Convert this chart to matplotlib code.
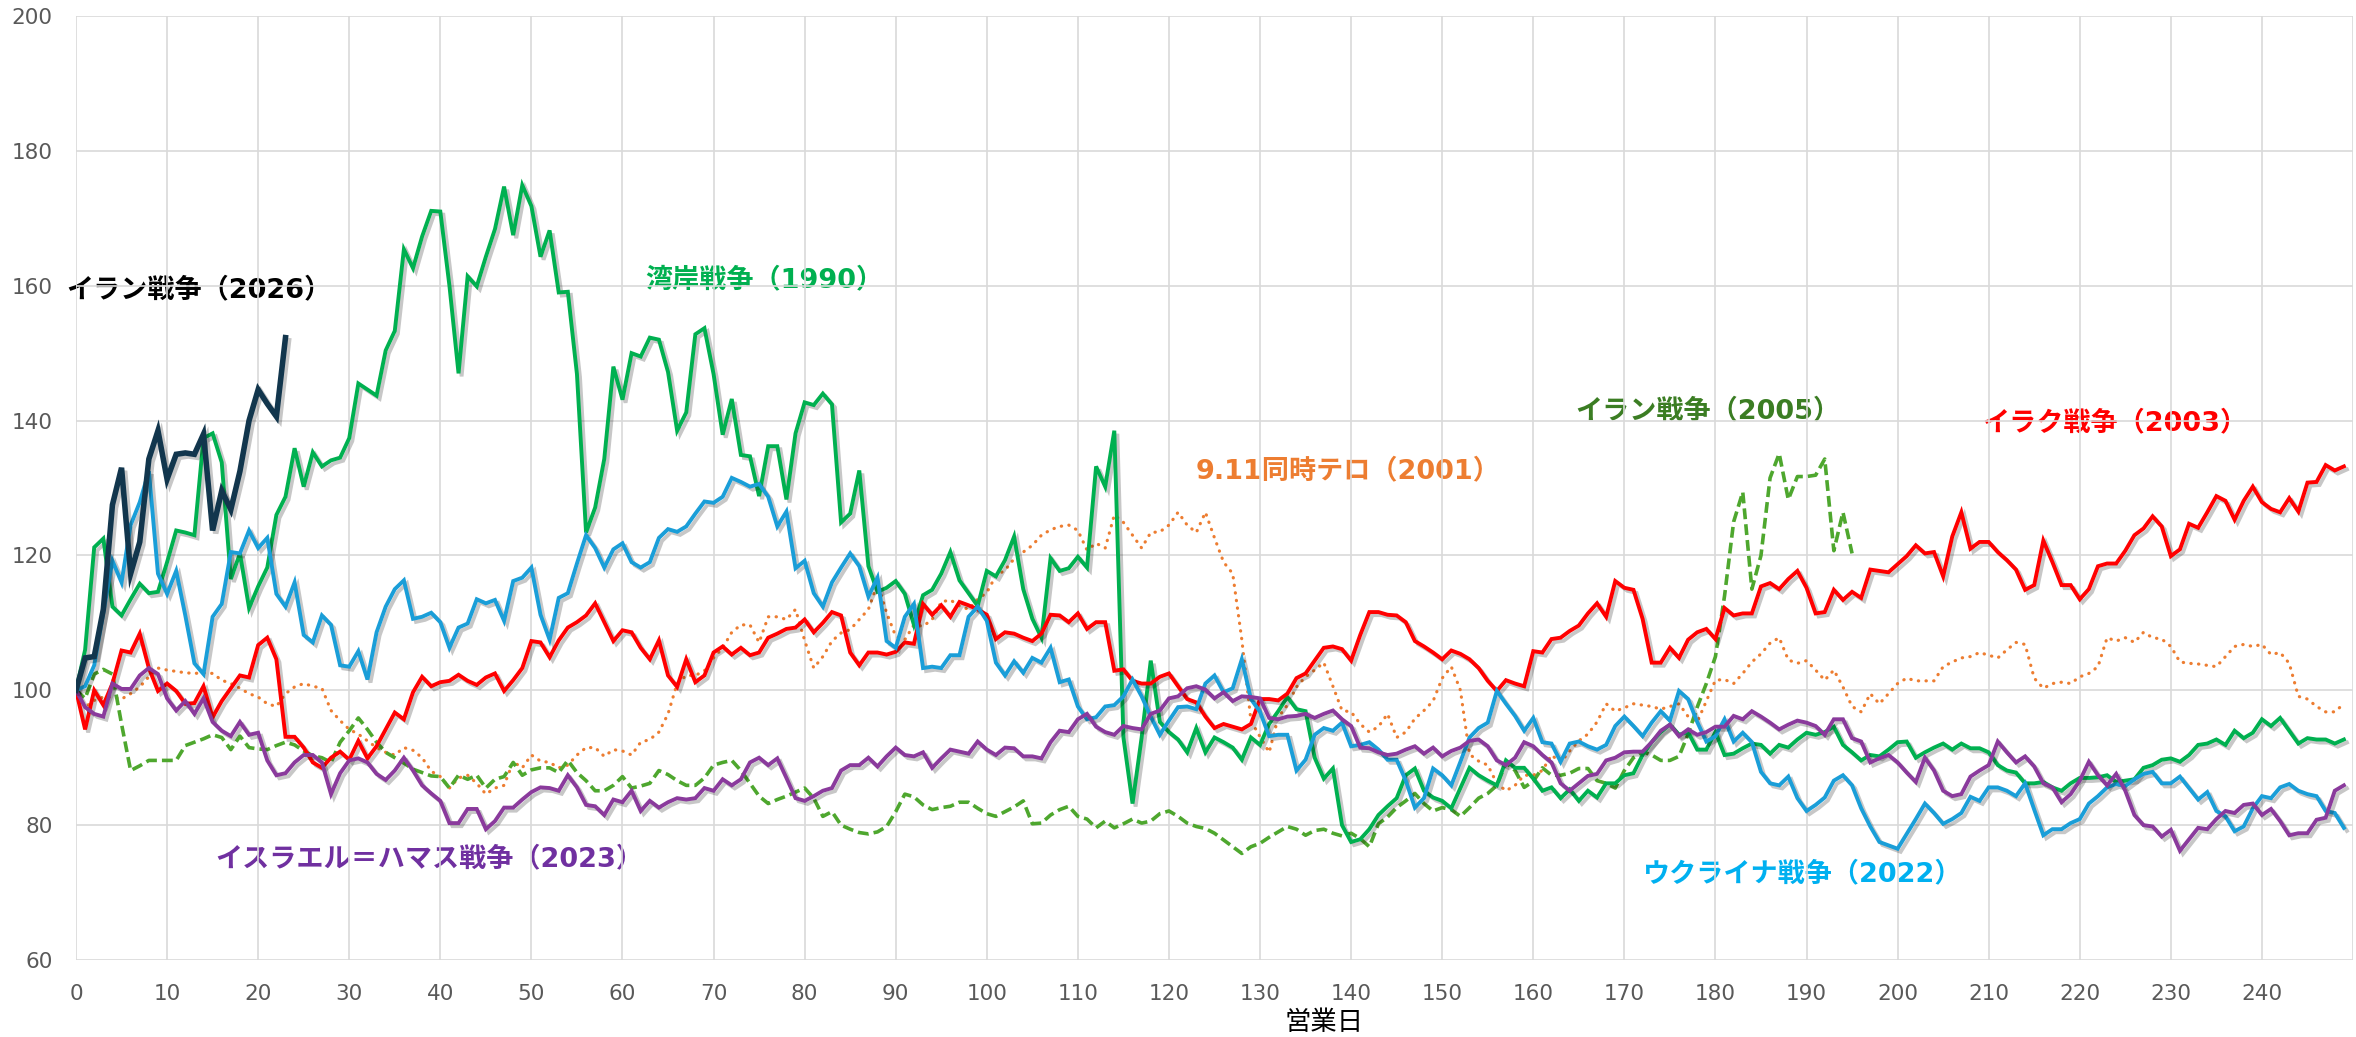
import matplotlib
matplotlib.use("Agg")
import matplotlib.pyplot as plt
import matplotlib.patheffects as pe
import numpy as np

plt.rcParams['font.family'] = ['DejaVu Sans', 'Noto Sans CJK JP']

# ---------------- data (index = business day) ----------------
iran2026 = [100, 104.8, 105, 112, 127.5, 133, 117.3, 122, 134.3, 138.5, 131.3, 135, 135.2, 135,
            138, 123.7, 129.6, 126.8, 132.5, 140, 144.6, 142.5, 140.6, 152.3]

gulf1990 = [100, 106, 121.2, 122.5, 112.4, 111.1, 113.5, 115.8, 114.4, 114.6,
            119, 123.7, 123.4, 123, 137.4, 138.1, 133.8, 116.5, 120.3, 112.2,
            115.4, 118.2, 126, 128.7, 135.9, 130.2, 135.3, 133.2, 134.1, 134.5,
            137.4, 145.5, 144.6, 143.7, 150.4, 153.3, 165.4, 162.6, 167.3, 171.1,
            171, 160, 147, 161.4, 159.9, 164.3, 168.4, 174.7, 167.5, 174.9,
            171.8, 164.3, 168.2, 159, 159.1, 146.9, 123.4, 127.1, 134.3, 148,
            143.1, 150, 149.5, 152.3, 152, 147.2, 138.5, 141.2, 152.8, 153.7,
            146.9, 137.9, 143.2, 134.9, 134.7, 128.8, 136.2, 136.2, 128.3, 138.1,
            142.7, 142.3, 144, 142.4, 124.9, 126.2, 132.6, 118.4, 114.6, 115.2,
            116.2, 114.3, 109.7, 114.1, 114.9, 117.3, 120.5, 116.3, 114.4, 112.5,
            117.7, 116.9, 119.3, 122.8, 115, 110.6, 107.8, 119.6, 117.7, 118.1,
            119.8, 118.2, 133.2, 130.2, 138.5, 93, 83.2, 93, 104.4, 95.3,
            93.8, 92.7, 90.8, 94.4, 90.8, 93, 92.3, 91.5, 89.7, 93,
            91.9, 95, 96.9, 99, 97.2, 96.9, 90, 86.9, 88.4, 80,
            77.5, 77.9, 79.4, 81.5, 82.8, 84, 87.4, 88.4, 85.1, 84.1,
            83.6, 82.5, 85.5, 88.5, 87.4, 86.6, 85.9, 89.6, 88.5, 88.5,
            86.9, 85.1, 85.6, 84, 85.3, 83.6, 85.1, 84.1, 86.2, 86.2,
            87.4, 87.7, 90.4, 92.3, 93.8, 94.9, 93.4, 93.8, 91.2, 91.2,
            93.8, 90.4, 90.6, 91.4, 92.1, 91.9, 90.6, 91.9, 91.5, 92.7,
            93.7, 93.4, 93.8, 94.6, 91.9, 90.8, 89.6, 90.4, 90.2, 91.2,
            92.3, 92.4, 90, 90.8, 91.5, 92.1, 91.2, 92.1, 91.4, 91.4,
            90.8, 88.9, 88.1, 87.8, 86.2, 86.2, 86.4, 85.6, 85.1, 86.2,
            87, 87, 87.1, 87.4, 86.4, 86.6, 86.8, 88.5, 88.9, 89.7,
            89.9, 89.4, 90.4, 91.9, 92.1, 92.7, 91.9, 94, 92.9, 93.7,
            95.7, 94.7, 95.9, 94, 92.1, 92.9, 92.7, 92.7, 92.1, 92.7]

ukraine2022 = [100, 100.6, 103.7, 111.5, 119.2, 116, 124.5, 127.9, 132.5, 117.3,
               114.3, 117.7, 111.1, 104, 102.4, 110.9, 112.8, 120.5, 120.3, 123.7,
               121.1, 122.6, 114.3, 112.4, 116, 108.2, 107.1, 111.1, 109.7, 103.7,
               103.5, 105.8, 101.6, 108.6, 112.4, 115, 116.3, 110.6, 110.9, 111.5,
               110.1, 106.3, 109.3, 109.9, 113.5, 112.9, 113.4, 110.3, 116.2, 116.7,
               118.2, 111.2, 107.5, 113.7, 114.4, 118.8, 123, 121.1, 118.2, 120.9,
               121.8, 119, 118.2, 119, 122.6, 123.9, 123.5, 124.3, 126.2, 128,
               127.8, 128.7, 131.5, 130.9, 130.2, 130.6, 128.7, 124.3, 126.5, 118.1,
               119.2, 114.4, 112.4, 116, 118.2, 120.3, 118.4, 113.9, 116.7, 107.3,
               106.3, 110.9, 112.8, 103.3, 103.5, 103.3, 105.2, 105.2, 110.9, 112.4,
               110.3, 104.1, 102.2, 104.3, 102.6, 104.8, 104.1, 106.3, 101.2, 101.6,
               97.6, 95.7, 96, 97.6, 97.8, 99.1, 101.6, 99.1, 96.1, 93.4,
               95.5, 97.5, 97.6, 97.2, 101, 102.2, 99.7, 100.3, 104.6, 98.7,
               96.8, 93.2, 93.4, 93.4, 88.1, 89.7, 93.4, 94.4, 94, 95.2,
               91.7, 91.9, 92.3, 91.2, 89.7, 89.7, 86.6, 82.6, 84, 88.4,
               87.4, 85.9, 89.4, 93, 94.4, 95.2, 99.9, 98, 96.2, 94,
               95.9, 92.3, 92.1, 89.4, 92.1, 92.4, 91.7, 91.2, 91.9, 94.7,
               96.1, 94.7, 93.2, 95.2, 96.9, 95.5, 99.9, 98.7, 95.3, 92.4,
               93.2, 95.7, 92.4, 93.7, 92.3, 87.9, 86.2, 85.9, 87.2, 84,
               82.1, 83, 84.1, 86.6, 87.4, 85.9, 82.5, 79.8, 77.5, 77,
               76.5, 78.7, 80.9, 83.2, 81.8, 80.2, 80.9, 81.8, 84.2, 83.6,
               85.6, 85.6, 85.1, 84.3, 86.2, 82.3, 78.5, 79.4, 79.4, 80.3,
               80.9, 83.2, 84.3, 85.6, 86.1, 85.8, 86.8, 87.6, 87.9, 86.2,
               86.2, 87.2, 85.5, 83.8, 84.9, 82.1, 81.3, 79.1, 79.8, 82.5,
               84.3, 84, 85.6, 86.1, 85.1, 84.6, 84.3, 82.1, 81.8, 79.6]

iraq2003 = [100, 94.2, 100, 97.8, 101, 105.9, 105.6, 108.4, 103.3, 99.9,
            101, 99.9, 98, 98.1, 100.6, 96, 98.4, 100.3, 102.2, 101.9,
            106.7, 107.8, 104.6, 93.1, 93.1, 91.5, 89.3, 88.5, 90, 90.9,
            89.7, 92.5, 89.9, 91.7, 94.2, 96.7, 95.7, 99.7, 102, 100.6,
            101.2, 101.4, 102.3, 101.4, 100.8, 101.9, 102.5, 99.9, 101.5, 103.3,
            107.3, 107.1, 104.9, 107.4, 109.3, 110.1, 111.1, 112.9, 110.1, 107.3,
            108.9, 108.6, 106.3, 104.6, 107.4, 102.2, 100.5, 104.6, 101.2, 102.2,
            105.6, 106.5, 105.3, 106.3, 105.2, 105.6, 107.8, 108.4, 109.1, 109.3,
            110.5, 108.6, 110, 111.6, 111.1, 105.6, 103.7, 105.6, 105.6, 105.3,
            105.7, 107.1, 106.9, 112.8, 111.2, 112.6, 110.9, 113.1, 112.6, 112,
            111.2, 107.6, 108.6, 108.4, 107.8, 107.3, 108.4, 111.2, 111.1, 110.1,
            111.4, 109.1, 110.1, 110.1, 102.9, 103.1, 101.4, 101, 101, 102,
            102.5, 100.6, 98.7, 98.2, 96.1, 94.4, 95, 94.6, 94.2, 95,
            98.7, 98.7, 98.5, 99.5, 101.8, 102.5, 104.4, 106.3, 106.5, 106.1,
            104.4, 108.2, 111.6, 111.6, 111.2, 111.1, 110.1, 107.3, 106.5, 105.6,
            104.6, 105.9, 105.4, 104.6, 103.3, 101.4, 99.9, 101.5, 101, 100.6,
            105.8, 105.6, 107.6, 107.8, 108.8, 109.6, 111.4, 112.9, 110.9, 116.2,
            115.2, 114.9, 110.6, 104.1, 104.1, 106.3, 104.8, 107.5, 108.6, 109.1,
            107.6, 112.2, 111.1, 111.4, 111.4, 115.4, 115.9, 115, 116.5, 117.7,
            115.2, 111.4, 111.6, 114.9, 113.4, 114.6, 113.7, 117.9, 117.7, 117.5,
            118.7, 119.9, 121.5, 120.3, 120.5, 116.9, 122.8, 126.4, 121, 122,
            122, 120.5, 119.3, 117.9, 114.9, 115.6, 122.2, 119, 115.6, 115.6,
            113.5, 115, 118.4, 118.8, 118.8, 120.7, 123, 124, 125.8, 124.3,
            119.9, 120.9, 124.7, 124.1, 126.4, 128.8, 128.1, 125.3, 128.1, 130.2,
            127.9, 126.9, 126.4, 128.5, 126.5, 130.8, 130.9, 133.4, 132.6, 133.2]

terror2001 = [100, 97.5, 98.5, 99, 99, 98.7, 99.5, 100.5, 102, 103.3,
              103, 102.8, 102.6, 102.5, 102.6, 102.5, 101.5, 101, 100.3, 99.5,
              99, 98, 97.6, 99.5, 100.5, 101, 100.6, 100.3, 97, 95.5,
              94.2, 93.5, 92.5, 91.5, 90.8, 90.4, 91.5, 91.1, 90, 88,
              87.2, 85.5, 87, 87.4, 86.2, 84.6, 85.5, 85.9, 89.4, 88.5,
              90.4, 89.5, 89.3, 88.5, 88.9, 90.4, 91.5, 91.5, 90.2, 91.2,
              91, 90.4, 92.3, 92.7, 93.8, 96.5, 101, 102.2, 102.2, 102.9,
              104.8, 106.3, 108.6, 109.7, 109.7, 107.1, 110.9, 110.9, 110.5, 112,
              107.4, 103.3, 105, 107.3, 108.5, 109, 110.5, 112, 115.8, 111.5,
              108, 107.5, 109.7, 109.5, 110.5, 113.1, 113.4, 112.5, 112, 113.5,
              114.5, 117, 117.8, 119.5, 120.5, 121.5, 123, 123.8, 124.3, 124.5,
              123.7, 120.8, 121.8, 121.1, 126, 124.9, 123, 121.1, 123.4, 123.5,
              124.5, 126.4, 124.5, 123.4, 126.4, 122.6, 119, 117.3, 107.5, 95.5,
              93.1, 90.8, 96, 97.8, 100.5, 102, 103, 104.1, 100.6, 97,
              96.8, 95, 93.8, 94.6, 96.5, 93, 93.8, 95.8, 97, 98.4,
              101.8, 103.5, 100, 90.5, 89.5, 88.9, 86.2, 85.1, 85.9, 87.4,
              87.4, 88.1, 90.4, 89.3, 91, 92.5, 93.5, 95.3, 98, 96.9,
              97.4, 98, 97.8, 97.6, 97.2, 97.6, 98, 96.1, 95.3, 98.4,
              101.5, 101.6, 101, 102.5, 104.2, 105.4, 107, 107.8, 104.5, 104,
              104.4, 103, 101.5, 103, 100.5, 97.6, 96.8, 99.5, 98, 99.5,
              101, 101.8, 101.4, 101.4, 101.4, 103.5, 104.2, 104.8, 105, 105.6,
              105.2, 104.8, 106, 107.1, 106.8, 101.8, 100.3, 101, 101.2, 101,
              102, 102.5, 103.5, 107.8, 107.3, 107.8, 107.1, 108.6, 107.8, 107.6,
              106.5, 104.2, 104, 103.9, 103.7, 103.5, 105, 106.5, 106.8, 106.5,
              106.8, 105.3, 105.6, 104, 99.1, 98.7, 97.6, 96.8, 96.8, 98]

iran2005 = [100, 98.8, 102.4, 103.1, 102.4, 95, 88.1, 88.8, 89.6, 89.6,
            89.6, 89.6, 91.8, 92.3, 92.8, 93.4, 93, 91.2, 93.2, 91.5,
            91.3, 91.2, 91.8, 92.3, 91.9, 91, 90.3, 90, 89.3, 92.3,
            94, 95.9, 94.2, 92.3, 90.8, 90, 89.2, 88.3, 87.8, 87.3,
            87.2, 85.5, 87.4, 86.8, 87.4, 85.5, 86.8, 87.2, 89.3, 87.4,
            88.2, 88.5, 88.5, 87.8, 89.6, 87.8, 86.6, 85.1, 85.1, 85.9,
            87.2, 85.5, 85.8, 86.2, 88.1, 87.5, 86.6, 85.9, 85.9, 87,
            88.9, 89.3, 89.6, 88.1, 86.2, 84.3, 83.2, 83.8, 84.3, 84.9,
            85.5, 84, 81.3, 82, 80, 79.4, 78.9, 78.7, 79, 79.8,
            82, 84.6, 84.2, 83, 82.3, 82.6, 82.8, 83.4, 83.4, 82.5,
            81.7, 81.3, 82, 82.7, 83.6, 80.2, 80.3, 81.5, 82.3, 82.8,
            81.3, 80.9, 79.6, 80.6, 79.6, 80.2, 80.9, 80.3, 80.6, 81.7,
            82.1, 81.3, 80.3, 79.8, 79.5, 78.8, 77.8, 76.8, 75.8, 76.8,
            77.3, 78.2, 79, 79.8, 79.4, 78.5, 79.2, 79.4, 78.8, 78.4,
            78.8, 78, 76.8, 80.2, 81.2, 82.6, 83.6, 84.7, 83.2, 82.1,
            82.6, 82.3, 81.3, 82.6, 84, 84.7, 85.9, 89.3, 88.1, 85.6,
            86.5, 88.5, 87.4, 87.4, 87.7, 88.4, 88.4, 86.6, 86.2, 85.5,
            88.1, 90, 90.9, 90.4, 89.6, 89.6, 90.2, 93.5, 97.5, 101,
            105, 114, 125, 129.4, 115, 120, 131.5, 135.1, 128.3, 131.7,
            131.7, 131.9, 134.3, 120.7, 126.4, 120.3]

israel2023 = [100, 97.5, 96.5, 96.1, 101, 100.2, 100.2, 102.2, 103.3, 102.4,
              98.8, 97, 98.4, 96.5, 98.8, 95.3, 94, 93.2, 95.3, 93.4,
              93.7, 89.6, 87.4, 87.7, 89.3, 90.4, 90.4, 89.3, 84.6, 87.7,
              89.6, 89.9, 89.3, 87.6, 86.7, 88.1, 90, 88.1, 85.9, 84.7,
              83.6, 80.3, 80.3, 82.4, 82.4, 79.4, 80.6, 82.6, 82.6, 83.8,
              84.9, 85.6, 85.5, 85.1, 87.4, 85.6, 83, 82.8, 81.5, 83.8,
              83.4, 85.1, 82.1, 83.6, 82.6, 83.4, 84, 83.8, 84, 85.5,
              85.1, 86.8, 85.9, 86.8, 89.3, 90, 88.9, 89.9, 87, 84,
              83.6, 84.3, 85.1, 85.5, 88.1, 88.9, 88.9, 90, 88.7, 90.2,
              91.5, 90.4, 90.2, 90.8, 88.5, 89.9, 91.2, 90.9, 90.6, 92.4,
              91.2, 90.4, 91.5, 91.4, 90.2, 90.2, 89.9, 92.3, 94, 93.8,
              95.7, 96.5, 94.6, 93.8, 93.4, 94.7, 94.4, 94.2, 96.5, 97,
              98.8, 99.1, 100.3, 100.6, 100.1, 98.8, 99.7, 98.4, 99.1, 99,
              98.8, 95.9, 95.7, 96.1, 96.2, 96.5, 95.9, 96.5, 97, 95.7,
              94.7, 91.5, 91.4, 90.8, 90.4, 90.6, 91.2, 91.7, 90.6, 91.5,
              90.2, 91, 91.5, 92.5, 92.7, 91.7, 89.6, 88.9, 90, 92.3,
              91.7, 90.4, 89.3, 86.2, 85.1, 86.2, 87.3, 87.6, 89.6, 90,
              90.8, 90.9, 90.9, 92.3, 94, 94.9, 93.2, 94.2, 93.4, 93.8,
              94.6, 94.6, 96.2, 95.7, 96.9, 96.1, 95.2, 94.2, 94.9, 95.5,
              95.2, 94.7, 93.4, 95.7, 95.7, 92.9, 92.4, 89.3, 89.9, 90.4,
              89.3, 87.8, 86.4, 90, 88.1, 85.1, 84.3, 84.6, 87.2, 88.1,
              88.9, 92.4, 90.8, 89.3, 90.2, 88.7, 86.2, 85.6, 83.4, 84.6,
              86.6, 89.4, 87.4, 85.9, 87.6, 85.1, 81.5, 80, 79.8, 78.3,
              79.3, 76.2, 77.9, 79.6, 79.4, 80.9, 82.1, 81.8, 83, 83.2,
              81.5, 82.4, 80.6, 78.5, 78.8, 78.8, 80.8, 81.1, 85.1, 85.9]

x_ticks = list(range(0, 251, 10))
x_tick_labels = [str(v) for v in range(0, 241, 10)] + ['']
y_ticks = list(range(60, 201, 20))

# ---------------- figure ----------------
W, H = 2356, 1037
fig = plt.figure(figsize=(W / 100, H / 100), dpi=100)
ax = fig.add_axes([76 / W, 1 - 960 / H, (2353 - 76) / W, (960 - 16) / H])

shadow = [pe.SimpleLineShadow(offset=(2.2, -2.2), shadow_color='black', alpha=0.22),
          pe.Normal()]


def draw(vals, color, lw, ls='-', fx=True, z=2, cap='butt'):
    xs = np.arange(len(vals))
    line, = ax.plot(xs, vals, color=color, lw=lw, linestyle=ls, zorder=z,
                    solid_joinstyle='miter', dash_capstyle=cap)
    if fx:
        line.set_path_effects(shadow)
    return line


draw(terror2001, '#ED7D31', 2.3, ls=(0, (0.1, 2.3)), fx=False, z=2, cap='round')
draw(iran2005, '#4EA72E', 2.6, ls=(0, (3.0, 1.4)), fx=False, z=3)
draw(gulf1990, '#00B050', 2.8, z=4)
draw(iraq2003, '#FF0000', 2.8, z=5)
draw(ukraine2022, '#1A9ED8', 2.8, z=6)
draw(israel2023, '#8A3A9C', 2.8, z=7)
draw(iran2026, '#12364D', 4.0, z=8)

ax.set_xlim(0, 250)
ax.set_ylim(60, 200)
ax.set_xticks(x_ticks)
ax.set_xticklabels(x_tick_labels)
ax.set_yticks(y_ticks)
ax.tick_params(axis='both', length=0, labelsize=15.5, labelcolor='#595959')
ax.tick_params(axis='x', pad=17)
ax.tick_params(axis='y', pad=17)
ax.grid(True, color='#D9D9D9', lw=1.2, zorder=0)
ax.set_axisbelow(True)
for s in ax.spines.values():
    s.set_visible(False)

fig.text(1324 / W, 1 - 1022 / H, '営業日', ha='center', va='center', fontsize=19,
         color='black', family=['Noto Sans CJK JP', 'DejaVu Sans'])

lab_font = ['DejaVu Sans', 'Noto Sans CJK JP']
labels = [
    ('イラン戦争（2026）', 66, 290, '#000000'),
    ('湾岸戦争（1990）', 645, 280, '#00B050'),
    ('9.11同時テロ（2001）', 1196, 471, '#ED7D31'),
    ('イラン戦争（2005）', 1575, 411, '#3B7D23'),
    ('イラク戦争（2003）', 1982, 423, '#FF0000'),
    ('ウクライナ戦争（2022）', 1642, 874, '#00B0F0'),
    ('イスラエル＝ハマス戦争（2023）', 215, 859, '#7030A0'),
]
for txt, px, py, col in labels:
    ax.text(px / W, 1 - py / H, txt, transform=fig.transFigure, ha='left', va='center',
            fontsize=19.5, fontweight='bold', color=col, family=lab_font,
            zorder=0.3, clip_on=False)

fig.savefig('out.png', dpi=100)
